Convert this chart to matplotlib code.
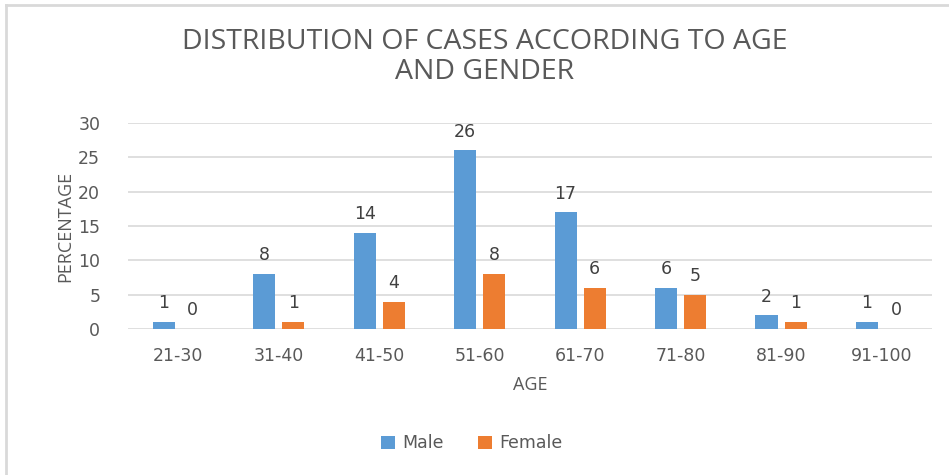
import numpy as np
import matplotlib
matplotlib.use("Agg")
import matplotlib.pyplot as plt
from matplotlib.lines import Line2D

# data
age_groups = ["21-30", "31-40", "41-50", "51-60", "61-70", "71-80", "81-90", "91-100"]
male = [1, 8, 14, 26, 17, 6, 2, 1]
female = [0, 1, 4, 8, 6, 5, 1, 0]

BLUE = "#5B9BD5"
ORANGE = "#ED7D31"
GRID = "#D9D9D9"
TICK = "#595959"
LABEL = "#404040"
OPEN = ["Open Sans", "DejaVu Sans"]

plt.rcParams["font.family"] = ["DejaVu Sans"]

fig = plt.figure(figsize=(9.49, 4.75), dpi=100)
ax = fig.add_axes([0.1349, 0.3074, 0.847, 0.4337])

x = np.arange(len(age_groups))
w = 0.22
off = 0.145
b1 = ax.bar(x - off, male, w, color=BLUE, label="Male", zorder=3)
b2 = ax.bar(x + off, female, w, color=ORANGE, label="Female", zorder=3)

# value labels above each bar
for bars in (b1, b2):
    for r in bars:
        ax.annotate(f"{r.get_height():g}", (r.get_x() + r.get_width() / 2, r.get_height()),
                    xytext=(0, 7), textcoords="offset points", ha="center", va="bottom",
                    fontsize=12.5, color=LABEL)

ax.set_xlim(-0.5, len(age_groups) - 0.5)
ax.set_ylim(0, 30)
ax.set_yticks(range(0, 31, 5))
ax.set_xticks(x)
ax.set_xticklabels(age_groups)
ax.yaxis.grid(True, color=GRID, linewidth=1.2, zorder=0)
ax.set_axisbelow(True)
for s in ax.spines.values():
    s.set_visible(False)
ax.tick_params(length=0, labelsize=12.5, colors=TICK, pad=13)
ax.tick_params(axis="y", pad=20)

ax.set_ylabel("PERCENTAGE", fontsize=13, color=TICK, labelpad=3, family=OPEN)
ax.set_xlabel("AGE", fontsize=13, color=TICK, labelpad=8, family=OPEN)

fig.text(0.511, 0.88, "DISTRIBUTION OF CASES ACCORDING TO AGE\nAND GENDER",
         ha="center", va="center", fontsize=20.5, color=TICK, linespacing=1.12,
         family=OPEN)

fig.legend(handles=[b1, b2], loc="center", bbox_to_anchor=(0.497, 0.067), ncol=2,
           frameon=False, fontsize=12.5, labelcolor=TICK, handlelength=0.8,
           handleheight=0.8, handletextpad=0.4, columnspacing=2.0)

# light grey frame (top and left edges visible in the crop)
fig.add_artist(Line2D([0.006, 0.006], [0, 0.99], transform=fig.transFigure, color=GRID, lw=2))
fig.add_artist(Line2D([0.006, 1.0], [0.99, 0.99], transform=fig.transFigure, color=GRID, lw=2))

fig.savefig("out.png", dpi=100, facecolor="white")
